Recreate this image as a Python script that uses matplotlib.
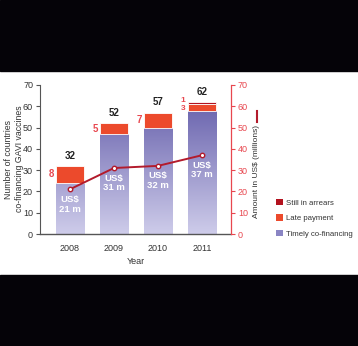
import numpy as np
import matplotlib.pyplot as plt
from matplotlib.patches import Rectangle, Patch
from matplotlib.lines import Line2D

plt.rcParams['font.family'] = ['Liberation Sans', 'DejaVu Sans']

years = ['2008', '2009', '2010', '2011']
timely = [24, 47, 50, 58]
late = [8, 5, 7, 3]
arrears = [0, 0, 0, 1]
amount_m = [21, 31, 32, 37]

PURPLE_TOP = np.array([108, 102, 175]) / 255
PURPLE_BOT = np.array([206, 204, 234]) / 255
LATE_C = '#ec4a2c'
ARREARS_C = '#b3121e'
LINE_C = '#b31b2c'
RED_TXT = '#e8474f'
GREY = '#555555'
TXT = '#333333'

W, H = 358, 346
fig = plt.figure(figsize=(W / 100, H / 100), dpi=100)

# black bands top and bottom
fig.patches.append(Rectangle((0, 1 - 71 / H), 1, 71 / H, transform=fig.transFigure,
                             color='#050308', zorder=0))
fig.patches.append(Rectangle((0, 0), 1, 71 / H, transform=fig.transFigure,
                             color='#050308', zorder=0))

ax = fig.add_axes([40 / W, (H - 234) / H, 191 / W, 149 / H])
x = np.arange(len(years))
bw = 0.64

totals = [t + l + a for t, l, a in zip(timely, late, arrears)]

grad = np.linspace(0, 1, 256)[:, None, None]
grad_img = PURPLE_BOT + (PURPLE_TOP - PURPLE_BOT) * grad
for xi, t, l, a, tot in zip(x, timely, late, arrears, totals):
    bar = ax.bar(xi, t, bw, color='none', edgecolor='none')[0]
    im = ax.imshow(grad_img, extent=[xi - bw / 2, xi + bw / 2, 0, 60], origin='lower',
                   aspect='auto', zorder=2)
    im.set_clip_path(bar)
    ax.bar(xi, l, bw, bottom=t, color=LATE_C, edgecolor='white', linewidth=0.6, zorder=3)
    if a:
        ax.bar(xi, a, bw, bottom=t + l, color=ARREARS_C, edgecolor='white', linewidth=0.6, zorder=3)
    ax.text(xi, tot + 2.5, str(tot), ha='center', va='bottom', fontsize=7,
            fontweight='bold', color='#222222')

# red side labels
for xi, t, l in zip(x[:3], timely[:3], late[:3]):
    ax.text(xi - bw / 2 - 0.05, t + l / 2, str(l), ha='right', va='center',
            fontsize=7, fontweight='bold', color=RED_TXT)
ax.text(x[3] - bw / 2 - 0.05, timely[3] + late[3] / 2 - 0.5, str(late[3]), ha='right',
        va='center', fontsize=6, fontweight='bold', color=RED_TXT)
ax.text(x[3] - bw / 2 - 0.05, timely[3] + late[3] + 1.6, str(arrears[3]), ha='right',
        va='center', fontsize=6, fontweight='bold', color=RED_TXT)

ax.set_xlim(-0.68, 3.66)
ax.set_ylim(0, 70)
ax.set_yticks(range(0, 71, 10))
ax.set_xticks(x)
ax.set_xticklabels(years)
ax.tick_params(axis='x', length=0, pad=7, labelsize=6.5, labelcolor=TXT)
ax.tick_params(axis='y', length=3, width=0.8, color=GREY, labelsize=6.5,
               labelcolor=TXT, pad=2)
for s in ['top', 'right']:
    ax.spines[s].set_visible(False)
ax.spines['left'].set_color(GREY)
ax.spines['bottom'].set_color(GREY)
ax.spines['left'].set_linewidth(0.8)
ax.spines['bottom'].set_linewidth(1.0)
ax.set_xlabel('Year', fontsize=6.5, color=TXT, labelpad=3)
fig.text(14 / W, 1 - 159 / H, 'Number of countries\nco-financing GAVI vaccines',
         rotation=90, ha='center', va='center', multialignment='center',
         fontsize=6.3, color=TXT, linespacing=1.2)

# amount line on right axis
ax2 = ax.twinx()
ax2.set_ylim(0, 70)
ax2.set_yticks(range(0, 71, 10))
ax2.plot(x, amount_m, color=LINE_C, linewidth=1.4, marker='o', markersize=3.2,
         markerfacecolor='white', markeredgecolor=LINE_C, markeredgewidth=1, zorder=5)
for s in ['top', 'left', 'bottom']:
    ax2.spines[s].set_visible(False)
ax2.spines['right'].set_color(RED_TXT)
ax2.spines['right'].set_linewidth(0.9)
ax2.tick_params(axis='y', length=3, width=0.8, color=RED_TXT, labelsize=6.5,
                labelcolor=RED_TXT, pad=2)
fig.text(257 / W, 1 - 172 / H, 'Amount in US$ (millions)', rotation=90,
         ha='center', va='center', fontsize=6, color=TXT)

# amount labels just under each line point
for xi, amt in zip(x, amount_m):
    ax2.text(xi, amt - 7, f'US$\n{amt} m', ha='center', va='center', fontsize=6.8,
             fontweight='bold', color='white', linespacing=1.1, zorder=6)

# line key beside the right label
fig.add_artist(Line2D([257 / W, 257 / W], [1 - 111 / H, 1 - 122 / H],
                      transform=fig.transFigure, color=LINE_C, linewidth=1.5))

handles = [Patch(facecolor=ARREARS_C), Patch(facecolor=LATE_C), Patch(facecolor='#8a85c4')]
fig.legend(handles, ['Still in arrears', 'Late payment', 'Timely co-financing'],
           loc='upper left', bbox_to_anchor=(276 / W, 1 - 199 / H), frameon=False,
           fontsize=5.6, handlelength=0.9, handleheight=0.9, handletextpad=0.35,
           labelspacing=0.95, borderpad=0, borderaxespad=0, labelcolor=TXT)

fig.savefig('out.png', dpi=100)
